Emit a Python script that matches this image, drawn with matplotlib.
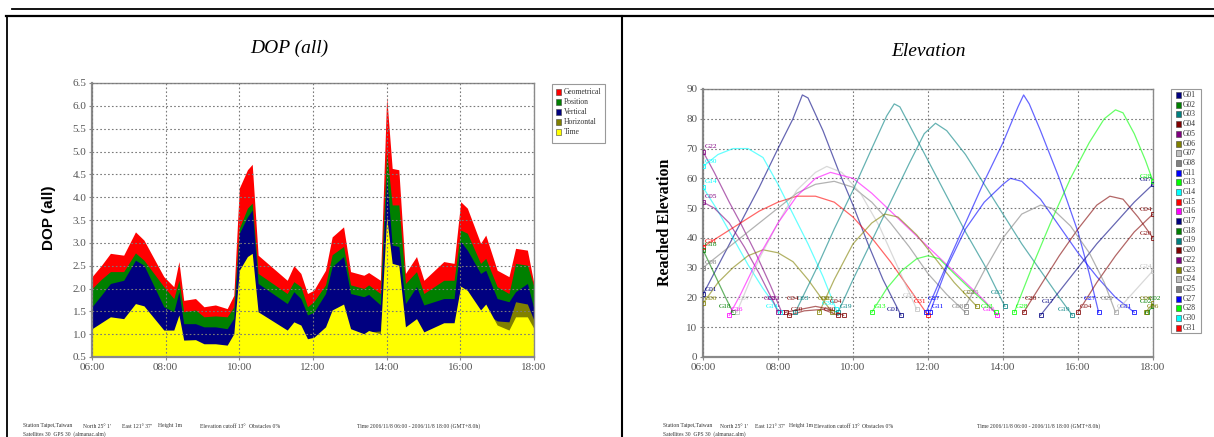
import matplotlib
matplotlib.use('Agg')
import matplotlib.pyplot as plt
from matplotlib.lines import Line2D
from matplotlib.patches import Rectangle
from matplotlib.ticker import FuncFormatter, MultipleLocator

# ---- DOP data (hours, values) ----
dop_time = [6.0, 6.25, 6.5, 6.86, 7.18, 7.41, 7.95, 8.22, 8.36, 8.49, 8.81, 9.04, 9.35, 9.67, 9.85,
            10.0, 10.22, 10.35, 10.51, 11.3, 11.48, 11.67, 11.85, 12.02, 12.34, 12.52, 12.83, 13.02,
            13.38, 13.51, 13.83, 14.0, 14.15, 14.33, 14.51, 14.81, 15.01, 15.55, 15.83, 16.01, 16.19,
            16.55, 16.69, 17.0, 17.32, 17.5, 17.82, 18.0]
geometrical = [2.26, 2.5, 2.77, 2.73, 3.24, 3.06, 2.26, 2.04, 2.59, 1.74, 1.78, 1.6, 1.64, 1.56, 1.85,
               4.2, 4.6, 4.72, 2.73, 2.18, 2.5, 2.33, 1.89, 1.96, 2.4, 3.13, 3.35, 2.37, 2.29, 2.35,
               2.18, 6.2, 4.63, 4.6, 2.33, 2.7, 2.18, 2.59, 2.55, 3.9, 3.76, 2.99, 3.17, 2.4, 2.26,
               2.88, 2.84, 2.1]
position = [2.0, 2.2, 2.37, 2.37, 2.78, 2.62, 2.04, 1.78, 2.18, 1.49, 1.53, 1.38, 1.4, 1.38, 1.6,
            3.32, 3.76, 3.87, 2.33, 1.89, 2.15, 2.04, 1.6, 1.71, 2.08, 2.74, 2.92, 2.08, 2.0, 2.08,
            1.89, 5.0, 3.83, 3.83, 2.11, 2.37, 1.89, 2.18, 2.18, 3.28, 3.21, 2.55, 2.66, 2.04, 1.89,
            2.55, 2.51, 2.04]
vertical = [1.6, 1.85, 2.11, 2.18, 2.62, 2.51, 1.6, 1.49, 1.93, 1.23, 1.23, 1.16, 1.16, 1.12, 1.35,
            3.21, 3.57, 3.72, 2.11, 1.67, 1.93, 1.78, 1.42, 1.48, 1.89, 2.48, 2.7, 1.89, 1.82, 1.87,
            1.64, 4.45, 2.95, 2.92, 1.67, 2.04, 1.64, 1.78, 1.78, 3.03, 2.84, 2.33, 2.4, 1.78, 1.71,
            1.93, 2.11, 1.55]
horizontal = [1.0, 1.1, 1.2, 1.2, 1.45, 1.4, 1.0, 0.95, 1.2, 0.8, 0.8, 0.72, 0.72, 0.7, 0.9,
              1.9, 2.1, 2.2, 1.3, 1.0, 1.15, 1.1, 0.85, 0.88, 1.05, 1.35, 1.45, 1.05, 0.98, 1.05,
              1.07, 2.6, 1.9, 1.9, 1.05, 1.2, 0.98, 1.15, 1.15, 1.7, 1.65, 1.35, 1.45, 1.29, 1.27,
              1.71, 1.66, 1.3]
time_dop = [1.12, 1.25, 1.38, 1.34, 1.67, 1.62, 1.09, 1.09, 1.42, 0.87, 0.88, 0.79, 0.79, 0.76, 1.01,
            2.4, 2.7, 2.77, 1.49, 1.09, 1.27, 1.2, 0.9, 0.93, 1.16, 1.53, 1.66, 1.12, 1.01, 1.08,
            1.01, 3.57, 2.55, 2.51, 1.16, 1.34, 1.05, 1.25, 1.25, 2.05, 1.96, 1.53, 1.66, 1.2, 1.09,
            1.38, 1.38, 1.12]
dop_names = ['Geometrical', 'Position', 'Vertical', 'Horizontal', 'Time']
dop_colors = ['#ff0000', '#008000', '#000080', '#808000', '#ffff00']

# ---- satellite elevation passes (hour, elevation deg) ----
G01 = [(6.0, 21), (6.5, 33), (7.0, 45), (7.5, 57), (8.0, 70), (8.4, 80), (8.65, 88), (8.8, 87),
       (9.2, 76), (9.6, 63), (10.0, 51), (10.4, 38), (10.8, 26), (11.28, 14)]
G22 = [(6.0, 69), (6.3, 62), (6.7, 52), (7.0, 45), (7.4, 35), (7.8, 24), (8.1, 15)]
G14 = [(6.0, 57), (6.4, 49), (6.8, 40), (7.2, 31), (7.6, 23), (8.05, 15)]
G05 = [(6.0, 52), (6.3, 50), (6.7, 45), (7.1, 37), (7.5, 28), (7.9, 18), (8.0, 15)]
G30 = [(6.0, 64), (6.4, 68), (6.8, 70), (7.2, 70), (7.6, 67), (8.0, 58), (8.4, 48), (8.8, 38),
       (9.2, 27), (9.55, 16)]
G31 = [(6.0, 37), (6.5, 41), (7.0, 45), (7.5, 49), (8.0, 52), (8.5, 54), (9.0, 54), (9.5, 52),
       (10.0, 47), (10.5, 40), (11.0, 32), (11.5, 23), (12.0, 14)]
G18 = [(6.0, 36), (6.3, 28), (6.6, 20), (6.8, 15)]
G06a = [(6.0, 18), (6.4, 25), (6.8, 30), (7.2, 34), (7.6, 36), (8.0, 35), (8.4, 32), (8.8, 26),
        (9.2, 19), (9.45, 15)]
G08 = [(6.0, 30), (6.5, 35), (7.0, 40), (7.5, 45), (8.0, 50), (8.5, 55), (9.0, 58), (9.5, 59),
       (10.0, 57), (10.5, 52), (11.0, 45), (11.5, 37), (12.0, 28), (12.5, 21), (13.0, 15)]
G07 = [(6.9, 15), (7.5, 33), (8.0, 45), (8.5, 56), (9.0, 62), (9.3, 64), (9.7, 62), (10.2, 55),
       (10.7, 44), (11.2, 30), (11.7, 16)]
G16 = [(6.7, 14), (7.0, 21), (7.5, 34), (8.0, 45), (8.5, 54), (9.0, 60), (9.4, 62), (10.0, 60),
       (10.5, 55), (11.0, 49), (11.5, 43), (12.0, 37), (12.5, 31), (13.0, 25), (13.5, 19), (13.85, 14)]
G03 = [(8.46, 15), (9.0, 29), (9.5, 43), (10.0, 56), (10.5, 70), (10.9, 81), (11.1, 85), (11.25, 84),
       (12.0, 66), (12.5, 54), (13.0, 42), (13.5, 31), (14.05, 17)]
G19 = [(9.6, 15), (10.0, 26), (10.5, 39), (11.0, 52), (11.5, 65), (11.9, 75), (12.2, 78.5), (12.5, 76),
       (13.0, 68), (13.5, 58), (14.0, 48), (14.5, 38), (15.0, 29), (15.5, 20), (15.85, 14)]
G23 = [(9.1, 15), (9.5, 26), (10.0, 38), (10.5, 45), (10.85, 48), (11.2, 47), (11.7, 41), (12.2, 33),
       (12.7, 25), (13.3, 17)]
G13 = [(10.5, 15), (10.9, 23), (11.3, 29), (11.7, 33), (12.0, 34), (12.3, 33), (12.7, 28), (13.2, 22),
       (13.8, 15)]
G27 = [(11.95, 15), (12.5, 31), (13.0, 45), (13.5, 59), (14.0, 72), (14.4, 84), (14.55, 88), (14.7, 85),
       (15.0, 76), (15.5, 60), (16.0, 42), (16.3, 28), (16.55, 15)]
G11 = [(12.05, 15), (12.5, 30), (13.0, 43), (13.5, 52), (14.0, 58), (14.2, 60), (14.5, 59), (15.0, 53),
       (15.5, 44), (16.0, 35), (16.5, 27), (17.0, 20), (17.5, 15)]
G17 = [(15.0, 14), (15.5, 22), (16.0, 30), (16.5, 38), (17.0, 45), (17.5, 52), (18.0, 58)]
G28 = [(14.3, 15), (14.8, 31), (15.3, 46), (15.8, 60), (16.3, 72), (16.7, 80), (17.0, 83), (17.2, 82),
       (17.5, 75), (17.8, 66), (18.0, 59)]
G20b = [(14.55, 15), (15.0, 24), (15.5, 34), (16.0, 43), (16.5, 51), (16.85, 54), (17.2, 53),
        (17.6, 47), (18.0, 40)]
G04b = [(16.0, 15), (16.5, 25), (17.0, 34), (17.5, 42), (18.0, 48)]
G25 = [(13.0, 17), (13.5, 29), (14.0, 40), (14.5, 48), (15.0, 51), (15.3, 50), (15.8, 44), (16.3, 35),
       (16.7, 25), (17.0, 15)]
G24 = [(17.0, 15), (17.5, 22), (18.0, 29)]
G04a = [(8.2, 15), (8.6, 16), (9.0, 17), (9.4, 16), (9.75, 14)]
G20a = [(8.3, 14), (8.7, 15.5), (9.2, 16), (9.6, 14)]
G02 = [(17.85, 15), (18.0, 17)]
G06b = [(17.8, 15), (18.0, 18)]

sat_names = ['G01', 'G02', 'G03', 'G04', 'G05', 'G06', 'G07', 'G08', 'G11', 'G13', 'G14', 'G15', 'G16',
             'G17', 'G18', 'G19', 'G20', 'G22', 'G23', 'G24', 'G25', 'G27', 'G28', 'G30', 'G31']
palette = ['#000080', '#008000', '#008080', '#800000', '#800080', '#808000', '#c0c0c0', '#808080',
           '#0000ff', '#00ff00', '#00ffff', '#ff0000', '#ff00ff']
sat_color = {n: palette[i % len(palette)] for i, n in enumerate(sat_names)}

passes = [('G01', G01), ('G22', G22), ('G14', G14), ('G05', G05), ('G30', G30), ('G31', G31),
          ('G18', G18), ('G06', G06a), ('G08', G08), ('G07', G07), ('G16', G16), ('G03', G03),
          ('G19', G19), ('G23', G23), ('G13', G13), ('G27', G27), ('G11', G11), ('G17', G17),
          ('G28', G28), ('G20', G20b), ('G04', G04b), ('G25', G25), ('G24', G24), ('G04', G04a),
          ('G20', G20a), ('G02', G02), ('G06', G06b)]

W, H = 1214, 437
fig = plt.figure(figsize=(W / 100, H / 100), dpi=100)


def fx(x):
    return x / W


def fy(y):
    return 1 - y / H


# page frame
fig.add_artist(Line2D([fx(12), 1], [fy(8.5)] * 2, color='black', lw=1.3))
fig.add_artist(Line2D([fx(6), 1], [fy(15.5)] * 2, color='black', lw=1.6))
fig.add_artist(Line2D([fx(6.8)] * 2, [fy(15.5), 0], color='black', lw=1.3))
fig.add_artist(Line2D([fx(621.5)] * 2, [fy(15.5), 0], color='black', lw=1.5))

serif = 'Liberation Serif'
hour_fmt = FuncFormatter(lambda v, p: '%02d:00' % int(round(v)))


def style(ax):
    for s in ax.spines.values():
        s.set_color('#8a8a8a')
        s.set_linewidth(1.0)
    ax.spines['left'].set_linewidth(1.6)
    ax.spines['bottom'].set_linewidth(1.6)
    ax.grid(True, ls=(0, (1.5, 2)), color='#7a7a7a', lw=0.8)
    ax.set_axisbelow(False)
    ax.tick_params(direction='out', length=2, color='#888888', labelsize=8, labelcolor='#555555', pad=2)
    for lab in ax.get_xticklabels() + ax.get_yticklabels():
        lab.set_fontfamily(serif)
    ax.xaxis.set_major_locator(MultipleLocator(2))
    ax.xaxis.set_major_formatter(hour_fmt)
    ax.set_xlim(6, 18)


# ---- left: DOP ----
ax1 = fig.add_axes([fx(92), fy(357), (534 - 92) / W, (357 - 83) / H])
for vals, c in zip([geometrical, position, vertical, horizontal, time_dop], dop_colors):
    ax1.fill_between(dop_time, 0.5, vals, color=c, lw=0, zorder=1)
ax1.set_ylim(0.5, 6.5)
ax1.yaxis.set_major_locator(MultipleLocator(0.5))
ax1.yaxis.set_major_formatter(FuncFormatter(lambda v, p: '%.1f' % v))
style(ax1)
for g in ax1.get_xgridlines() + ax1.get_ygridlines():
    g.set_zorder(0.5)

fig.text(fx(289), fy(48), 'DOP (all)', ha='center', va='center', fontsize=14,
         fontfamily=serif, fontstyle='italic')
fig.text(fx(49), fy(218), 'DOP (all)', ha='center', va='center', rotation=90, fontsize=11,
         fontfamily='Liberation Sans', fontweight='bold')

# DOP legend
fig.add_artist(Rectangle((fx(552), fy(143)), 53 / W, 59 / H, transform=fig.transFigure,
                         facecolor='white', edgecolor='#999999', lw=0.8))
for i, (n, c) in enumerate(zip(dop_names, dop_colors)):
    yy = 92 + i * 10
    fig.add_artist(Rectangle((fx(556), fy(yy + 3)), 5 / W, 6 / H, transform=fig.transFigure,
                             facecolor=c, edgecolor='#444444', lw=0.4))
    fig.text(fx(564), fy(yy), n, ha='left', va='center', fontsize=5.5, fontfamily=serif, color='#333333')

# ---- right: Elevation ----
ax2 = fig.add_axes([fx(703), fy(357), (1153 - 703) / W, (357 - 89) / H])
ax2.set_ylim(0, 90)
ax2.yaxis.set_major_locator(MultipleLocator(10))
style(ax2)
for k, (name, pts) in enumerate(passes):
    c = sat_color[name]
    ts = [p[0] for p in pts]
    es = [p[1] for p in pts]
    ax2.plot(ts, es, color=c, lw=0.9, alpha=0.6, zorder=3)
    ax2.plot([ts[0], ts[-1]], [es[0], es[-1]], ls='none', marker='s', ms=3.2, mfc='none',
             mec=c, mew=0.7, alpha=0.8, zorder=4)
    # stagger labels a little so the horizon clusters stay readable
    lift = 2 if k % 2 == 0 else 4.5
    ax2.text(ts[0] + 0.04, es[0] + (1.8 if ts[0] <= 6.0 else lift), name, ha='left', va='center',
             fontsize=5.2, fontfamily=serif, color=c, zorder=5)
    if ts[-1] >= 18.0:
        ax2.text(ts[-1] - 0.03, es[-1] + 1.5, name, ha='right', va='center', fontsize=5.2,
                 fontfamily=serif, color=c, zorder=5)
    else:
        ax2.text(ts[-1] - 0.05, es[-1] + lift, name, ha='right', va='center', fontsize=5.2,
                 fontfamily=serif, color=c, zorder=5)

fig.text(fx(928), fy(52), 'Elevation', ha='center', va='center', fontsize=14,
         fontfamily=serif, fontstyle='italic')
fig.text(fx(665), fy(222), 'Reached Elevation', ha='center', va='center', rotation=90,
         fontsize=11.5, fontfamily=serif, fontweight='bold')

# satellite legend
fig.add_artist(Rectangle((fx(1171), fy(333)), 30 / W, 244 / H, transform=fig.transFigure,
                         facecolor='white', edgecolor='#999999', lw=0.8))
for i, n in enumerate(sat_names):
    yy = 95 + i * 9.7
    fig.add_artist(Rectangle((fx(1176), fy(yy + 3)), 5 / W, 6 / H, transform=fig.transFigure,
                             facecolor=sat_color[n], edgecolor='#444444', lw=0.4))
    fig.text(fx(1183), fy(yy), n, ha='left', va='center', fontsize=5.5, fontfamily=serif, color='#333333')

# ---- footers ----
foot_left = [(23, 'Station Taipei,Taiwan'), (83, "North 25\u00b0 1'"), (122, "East 121\u00b0 37'"),
             (158, 'Height 1m'), (200, 'Elevation cutoff 13\u00b0'), (249, 'Obstacles 0%'),
             (357, 'Time 2006/11/8 06:00 - 2006/11/8 18:00 (GMT+8.0h)')]
foot_right = [(663, 'Station Taipei,Taiwan'), (720, "North 25\u00b0 1'"), (755, "East 121\u00b0 37'"),
              (789, 'Height 1m'), (814, 'Elevation cutoff 13\u00b0'), (862, 'Obstacles 0%'),
              (977, 'Time 2006/11/8 06:00 - 2006/11/8 18:00 (GMT+8.0h)')]
for x0, s in foot_left + foot_right:
    fig.text(fx(x0), fy(426), s, ha='left', va='center', fontsize=4.1, fontfamily=serif, color='#333333')
for x0 in (23, 663):
    fig.text(fx(x0), fy(431.5), 'Satellites 30  GPS 30  (almanac.alm)', ha='left', va='top',
             fontsize=4.1, fontfamily=serif, color='#333333')

fig.savefig('out.png', dpi=100)
